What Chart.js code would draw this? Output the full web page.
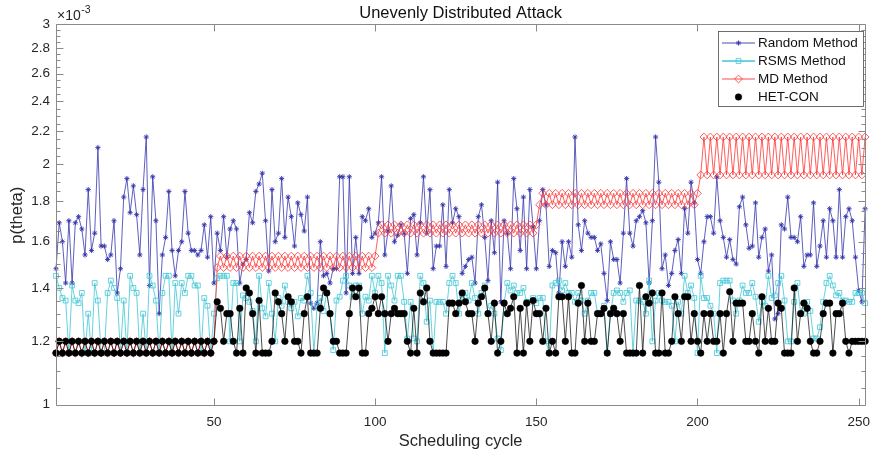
<!DOCTYPE html>
<html>
<head>
<meta charset="utf-8">
<script src="https://cdn.jsdelivr.net/npm/chart.js@4.4.1/dist/chart.umd.min.js"></script>
<style>
  html, body { margin: 0; padding: 0; background: #ffffff; }
  #wrap { width: 880px; height: 452px; position: relative; }
</style>
</head>
<body>
<div id="wrap"><canvas id="c" width="880" height="452"></canvas></div>
<script>
// p(theta) values are given in units of 1e-3 (the axis shows the x10^-3 exponent).
const cycles = Array.from({ length: 252 }, (_, i) => i + 1);

const randomMethod = [
  1.48,1.69,1.60,1.42,1.70,1.42,1.69,1.72,1.66,1.54, 1.86,1.56,1.64,2.10,1.58,1.58,1.52,1.54,1.70,1.38,
  1.48,1.82,1.92,1.74,1.88,1.73,1.54,1.86,2.165,1.41, 1.93,1.70,1.30,1.54,1.62,1.85,1.56,1.45,1.56,1.60,
  1.85,1.64,1.56,1.56,1.54,1.56,1.68,1.53,1.72,1.42,
  1.64,1.56,1.72,1.53,1.66,1.70,1.66,1.42,1.50,1.52, 1.74,1.69,1.85,1.89,1.95,1.70,1.47,1.86,1.60,1.64,
  1.92,1.62,1.82,1.72,1.58,1.79,1.73,1.65,1.82,1.34, 1.32,1.34,1.60,1.45,1.46,1.42,1.48,1.48,1.93,1.93,
  1.38,1.93,1.46,1.62,1.46,1.72,1.70,1.76,1.62,1.64,
  1.69,1.93,1.54,1.65,1.88,1.60,1.63,1.68,1.64,1.46, 1.71,1.73,1.54,1.69,1.93,1.64,1.86,1.48,1.58,1.58,
  1.78,1.49,1.86,1.69,1.76,1.72,1.46,1.49,1.52,1.53, 1.42,1.72,1.78,1.62,1.43,1.70,1.55,1.90,1.345,1.70,
  1.64,1.48,1.92,1.76,1.56,1.82,1.48,1.86,1.67,1.48,
  1.70,1.86,1.78,1.49,1.56,1.55,1.38,1.60,1.49,1.60, 1.53,2.165,1.68,1.56,1.70,1.64,1.62,1.62,1.56,1.59,
  1.46,1.35,1.60,1.52,1.52,1.42,1.64,1.92,1.64,1.58, 1.70,1.72,1.75,1.69,1.42,1.70,2.165,1.90,1.48,1.54,
  1.41,1.46,1.56,1.61,1.46,1.76,1.64,1.90,1.79,1.52,
  1.46,1.60,1.72,1.72,1.64,1.93,1.70,1.62,1.53,1.61, 1.52,1.50,1.77,1.82,1.68,1.57,1.58,1.79,1.53,1.62,
  1.66,1.47,1.54,1.28,1.30,1.68,1.66,1.82,1.62,1.62, 1.60,1.72,1.49,1.54,1.54,1.79,1.49,1.58,1.70,1.53,
  1.76,1.70,1.53,1.86,1.53,1.72,1.76,1.70,1.53,1.39, 1.345,1.76
];

const rsmsMethod = [
  1.45,1.40,1.36,1.35,1.16,1.41,1.35,1.34,1.38,1.16, 1.30,1.16,1.42,1.35,1.16,1.16,1.38,1.43,1.40,1.36,
  1.16,1.35,1.16,1.45,1.40,1.38,1.16,1.30,1.16,1.45, 1.41,1.35,1.16,1.38,1.45,1.45,1.16,1.42,1.30,1.42,
  1.38,1.45,1.45,1.41,1.41,1.16,1.36,1.33,1.16,1.30,
  1.44,1.45,1.45,1.45,1.20,1.42,1.42,1.20,1.37,1.36, 1.345,1.31,1.20,1.45,1.32,1.29,1.42,1.30,1.20,1.36,
  1.33,1.41,1.345,1.32,1.345,1.29,1.36,1.35,1.45,1.38, 1.16,1.33,1.36,1.31,1.38,1.30,1.17,1.35,1.365,1.43,
  1.45,1.41,1.365,1.41,1.41,1.30,1.365,1.35,1.45,1.38,
  1.45,1.42,1.16,1.45,1.41,1.35,1.45,1.45,1.345,1.21, 1.345,1.21,1.20,1.45,1.42,1.27,1.35,1.16,1.345,1.345,
  1.345,1.30,1.42,1.45,1.42,1.30,1.37,1.38,1.35,1.42, 1.36,1.30,1.38,1.41,1.30,1.33,1.30,1.21,1.17,1.34,
  1.42,1.39,1.41,1.38,1.38,1.40,1.345,1.345,1.36,1.34,
  1.36,1.36,1.20,1.16,1.41,1.42,1.43,1.39,1.42,1.38, 1.38,1.345,1.38,1.35,1.30,1.35,1.38,1.38,1.30,1.30,
  1.33,1.16,1.30,1.38,1.39,1.38,1.345,1.38,1.39,1.16, 1.35,1.35,1.345,1.30,1.43,1.20,1.35,1.38,1.35,1.345,
  1.345,1.33,1.20,1.345,1.30,1.45,1.38,1.41,1.36,1.16,
  1.45,1.36,1.36,1.33,1.30,1.16,1.42,1.43,1.43,1.43, 1.35,1.30,1.35,1.41,1.38,1.38,1.42,1.365,1.27,1.345,
  1.33,1.45,1.36,1.37,1.42,1.45,1.35,1.20,1.20,1.345, 1.42,1.30,1.30,1.345,1.31,1.21,1.21,1.25,1.345,1.42,
  1.45,1.41,1.37,1.38,1.35,1.35,1.345,1.345,1.38,1.38, 1.38,1.34
];

const mdMethod = [
  1.16,1.20,1.16,1.20,1.16,1.20,1.16,1.20,1.16,1.20, 1.16,1.20,1.16,1.20,1.16,1.20,1.16,1.20,1.16,1.20,
  1.16,1.20,1.16,1.20,1.16,1.20,1.16,1.20,1.16,1.20, 1.16,1.20,1.16,1.20,1.16,1.20,1.16,1.20,1.16,1.20,
  1.16,1.20,1.16,1.20,1.16,1.20,1.16,1.20,1.16,1.20,
  1.485,1.535,1.485,1.535,1.485,1.535,1.485,1.535,1.485,1.535, 1.485,1.535,1.485,1.535,1.485,1.535,1.485,1.535,1.485,1.535,
  1.485,1.535,1.485,1.535,1.485,1.535,1.485,1.535,1.485,1.535, 1.485,1.535,1.485,1.535,1.485,1.535,1.485,1.535,1.485,1.535,
  1.485,1.535,1.485,1.535,1.485,1.535,1.485,1.535,1.485,1.535,
  1.64,1.68,1.64,1.68,1.64,1.68,1.64,1.68,1.64,1.68, 1.64,1.68,1.64,1.68,1.64,1.68,1.64,1.68,1.64,1.68,
  1.64,1.68,1.64,1.68,1.64,1.68,1.64,1.68,1.64,1.68, 1.64,1.68,1.64,1.68,1.64,1.68,1.64,1.68,1.64,1.68,
  1.64,1.68,1.64,1.68,1.64,1.68,1.64,1.68,1.64,1.68,
  1.78,1.84,1.78,1.84,1.78,1.84,1.78,1.84,1.78,1.84, 1.78,1.84,1.78,1.84,1.78,1.84,1.78,1.84,1.78,1.84,
  1.78,1.84,1.78,1.84,1.78,1.84,1.78,1.84,1.78,1.84, 1.78,1.84,1.78,1.84,1.78,1.84,1.78,1.84,1.78,1.84,
  1.78,1.84,1.78,1.84,1.78,1.84,1.78,1.84,1.78,1.84,
  1.94,2.165,1.94,2.165,1.94,2.165,1.94,2.165,1.94,2.165, 1.94,2.165,1.94,2.165,1.94,2.165,1.94,2.165,1.94,2.165,
  1.94,2.165,1.94,2.165,1.94,2.165,1.94,2.165,1.94,2.165, 1.94,2.165,1.94,2.165,1.94,2.165,1.94,2.165,1.94,2.165,
  1.94,2.165,1.94,2.165,1.94,2.165,1.94,2.165,1.94,2.165, 1.94,2.165
];

const hetCon = [
  1.16,1.20,1.16,1.20,1.16,1.20,1.16,1.20,1.16,1.20, 1.16,1.20,1.16,1.20,1.16,1.20,1.16,1.20,1.16,1.20,
  1.16,1.20,1.16,1.20,1.16,1.20,1.16,1.20,1.16,1.20, 1.16,1.20,1.16,1.20,1.16,1.20,1.16,1.20,1.16,1.20,
  1.16,1.20,1.16,1.20,1.16,1.20,1.16,1.20,1.16,1.20,
  1.345,1.32,1.20,1.30,1.30,1.20,1.16,1.32,1.16,1.40, 1.38,1.30,1.16,1.35,1.16,1.16,1.16,1.20,1.38,1.345,
  1.30,1.20,1.365,1.345,1.20,1.20,1.16,1.30,1.365,1.16, 1.16,1.16,1.32,1.40,1.38,1.30,1.20,1.20,1.16,1.16,
  1.16,1.30,1.40,1.365,1.40,1.16,1.16,1.30,1.32,1.365,
  1.30,1.365,1.30,1.20,1.30,1.32,1.30,1.30,1.30,1.20, 1.16,1.32,1.16,1.38,1.345,1.40,1.20,1.16,1.16,1.16,
  1.16,1.16,1.34,1.34,1.30,1.34,1.38,1.345,1.30,1.30, 1.20,1.34,1.365,1.40,1.30,1.20,1.34,1.16,1.20,1.34,
  1.30,1.32,1.365,1.16,1.32,1.16,1.34,1.20,1.35,1.30,
  1.30,1.20,1.32,1.16,1.20,1.16,1.365,1.365,1.20,1.365, 1.16,1.16,1.34,1.41,1.20,1.34,1.20,1.20,1.30,1.30,
  1.32,1.16,1.30,1.32,1.30,1.20,1.30,1.16,1.16,1.16, 1.16,1.41,1.16,1.365,1.34,1.38,1.16,1.16,1.38,1.16,
  1.16,1.20,1.365,1.30,1.20,1.365,1.365,1.20,1.30,1.20,
  1.16,1.30,1.20,1.30,1.20,1.20,1.30,1.16,1.30,1.385, 1.20,1.34,1.34,1.34,1.20,1.20,1.30,1.20,1.16,1.365,
  1.20,1.32,1.20,1.20,1.34,1.32,1.16,1.16,1.16,1.40, 1.20,1.30,1.34,1.32,1.20,1.16,1.16,1.20,1.30,1.34,
  1.34,1.16,1.30,1.30,1.34,1.20,1.16,1.20,1.20,1.20, 1.20,1.20
];

const xTickValues = [50, 100, 150, 200, 250];
const yTickValues = [1, 1.2, 1.4, 1.6, 1.8, 2, 2.2, 2.4, 2.6, 2.8, 3];
const seriesNames = ['Random Method', 'RSMS Method', 'MD Method', 'HET-CON'];

const FONT = '"Liberation Sans", Arial, Helvetica, sans-serif';
const TEXT = '#262626';
const FRAME = '#8a8a8a';

const toPoints = arr => cycles.map((c, i) => ({ x: c, y: arr[i] }));

const colors = {
  random: '#3636ad',
  rsms: '#3fc6d6',
  md: '#ff3535',
  het: '#000000'
};

// Axes box with inward ticks, title, exponent, axis labels and legend
const decorations = {
  id: 'decorations',
  afterDatasetsDraw(chart) {
    const { ctx, chartArea: a, scales } = chart;
    const xs = scales.x, ys = scales.y;
    const L = Math.round(a.left) + 0.5, R = Math.round(a.right) + 0.5;
    const T = Math.round(a.top) + 0.5, B = Math.round(a.bottom) + 0.5;
    ctx.save();
    ctx.strokeStyle = FRAME;
    ctx.lineWidth = 1;
    ctx.beginPath();
    ctx.rect(L, T, R - L, B - T);
    xTickValues.forEach(v => {
      const px = Math.round(xs.getPixelForValue(v)) + 0.5;
      ctx.moveTo(px, B); ctx.lineTo(px, B - 7);
      ctx.moveTo(px, T); ctx.lineTo(px, T + 7);
    });
    for (let k = 20; k <= 60; k++) {
      const py = Math.round(ys.getPixelForValue(k / 20)) + 0.5;
      const len = (k % 4 === 0) ? 7 : 4;
      ctx.moveTo(L, py); ctx.lineTo(L + len, py);
      ctx.moveTo(R, py); ctx.lineTo(R - len, py);
    }
    ctx.stroke();
    ctx.restore();
  },
  afterDraw(chart) {
    const { ctx, chartArea: a } = chart;
    const cx = (a.left + a.right) / 2;
    ctx.save();
    // title
    ctx.fillStyle = '#111';
    ctx.font = '16.5px ' + FONT;
    ctx.textAlign = 'center';
    ctx.textBaseline = 'alphabetic';
    ctx.fillText('Unevenly Distributed Attack', cx, 17.5);
    // exponent
    ctx.fillStyle = TEXT;
    ctx.textAlign = 'left';
    ctx.font = '14px ' + FONT;
    ctx.fillText('\u00d710', 57, 20);
    const w = ctx.measureText('\u00d710').width;
    ctx.font = '10.5px ' + FONT;
    ctx.fillText('-3', 57 + w + 0.5, 12.5);
    // x label
    ctx.font = '16.5px ' + FONT;
    ctx.textAlign = 'center';
    ctx.fillText('Scheduling cycle', cx, 446);
    // y label
    ctx.translate(17, (a.top + a.bottom) / 2 + 1);
    ctx.rotate(-Math.PI / 2);
    ctx.textBaseline = 'middle';
    ctx.fillText('p(theta)', 0, 0);
    ctx.restore();

    // legend
    ctx.save();
    const bx = 718.5, by = 31.5, bw = 145, bh = 75;
    ctx.fillStyle = '#ffffff';
    ctx.fillRect(bx, by, bw, bh);
    ctx.strokeStyle = '#4a4a4a';
    ctx.lineWidth = 0.8;
    ctx.strokeRect(bx, by, bw, bh);
    const rowY = [43, 61, 79, 97];
    chart.data.datasets.forEach((ds, i) => {
      const y = rowY[i];
      if (i < 3) {
        ctx.strokeStyle = ds.borderColor;
        ctx.lineWidth = i === 1 ? 1.6 : 0.9;
        ctx.beginPath();
        ctx.moveTo(722, y); ctx.lineTo(755, y);
        ctx.stroke();
      }
      ctx.fillStyle = ds.pointBackgroundColor;
      ctx.strokeStyle = ds.pointBorderColor;
      ctx.lineWidth = ds.pointBorderWidth;
      Chart.helpers.drawPoint(ctx, {
        pointStyle: ds.pointStyle,
        radius: ds.pointRadius,
        borderWidth: ds.pointBorderWidth,
        rotation: 0
      }, 738.5, y);
      ctx.fillStyle = '#111';
      ctx.font = '13.5px ' + FONT;
      ctx.textAlign = 'left';
      ctx.textBaseline = 'middle';
      ctx.fillText(ds.label, 758, y + 0.5);
    });
    ctx.restore();
  }
};

new Chart(document.getElementById('c'), {
  type: 'line',
  data: {
    datasets: [
      {
        label: seriesNames[0], data: toPoints(randomMethod), order: 4,
        borderColor: colors.random, borderWidth: 0.8,
        pointStyle: 'star', pointRadius: 2.6, pointBorderWidth: 0.9,
        pointBorderColor: colors.random, pointBackgroundColor: colors.random
      },
      {
        label: seriesNames[1], data: toPoints(rsmsMethod), order: 3,
        borderColor: colors.rsms, borderWidth: 0.8,
        pointStyle: 'rect', pointRadius: 3.4, pointBorderWidth: 0.8,
        pointBorderColor: colors.rsms, pointBackgroundColor: 'rgba(255,255,255,0)'
      },
      {
        label: seriesNames[2], data: toPoints(mdMethod), order: 2,
        borderColor: colors.md, borderWidth: 0.8,
        pointStyle: 'rectRot', pointRadius: 3.9, pointBorderWidth: 0.8,
        pointBorderColor: colors.md, pointBackgroundColor: 'rgba(255,255,255,0)'
      },
      {
        label: seriesNames[3], data: toPoints(hetCon), order: 1,
        borderColor: colors.het, borderWidth: 0.7,
        pointStyle: 'circle', pointRadius: 3.3, pointBorderWidth: 0.5,
        pointBorderColor: colors.het, pointBackgroundColor: colors.het
      }
    ]
  },
  options: {
    responsive: false,
    animation: false,
    devicePixelRatio: 1,
    clip: false,
    layout: { padding: { top: 24, right: 8, left: 0, bottom: 0 } },
    elements: { line: { tension: 0 } },
    plugins: { legend: { display: false }, tooltip: { enabled: false }, title: { display: false } },
    scales: {
      x: {
        type: 'linear', min: 1, max: 252,
        grid: { display: false, drawTicks: false },
        border: { display: false },
        afterBuildTicks: s => { s.ticks = xTickValues.map(v => ({ value: v })); },
        afterFit: s => { s.height = 47.5; },
        ticks: {
          color: TEXT, padding: 10, maxRotation: 0,
          font: { family: FONT, size: 13.5 },
          callback: v => String(v)
        }
      },
      y: {
        type: 'logarithmic', min: 1, max: 3,
        grid: { display: false, drawTicks: false },
        border: { display: false },
        afterBuildTicks: s => { s.ticks = yTickValues.map(v => ({ value: v })); },
        afterFit: s => { s.width = 56; },
        ticks: {
          color: TEXT, padding: 6,
          font: { family: FONT, size: 13.5 },
          callback: v => String(Math.round(v * 10) / 10)
        }
      }
    }
  },
  plugins: [decorations]
});
</script>
</body>
</html>
